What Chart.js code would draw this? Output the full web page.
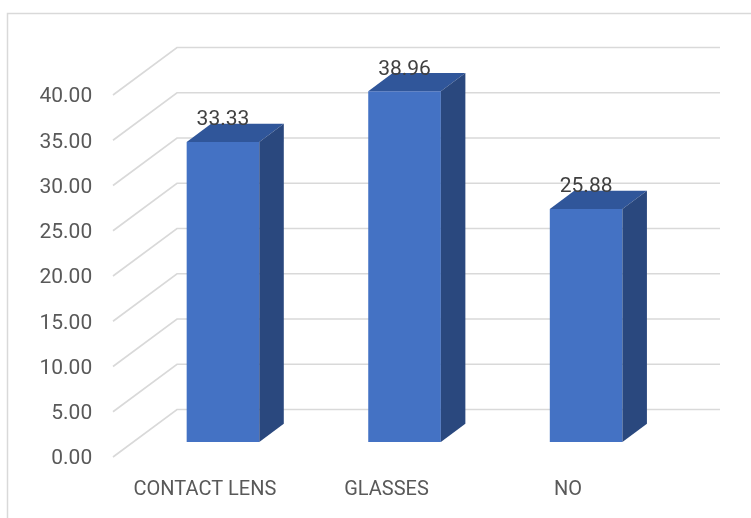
<!DOCTYPE html>
<html>
<head>
<meta charset="utf-8">
<script src="https://cdn.jsdelivr.net/npm/chart.js@4/dist/chart.umd.min.js"></script>
<style>
  html, body { margin: 0; padding: 0; background: #ffffff; }
  canvas { display: block; }
</style>
</head>
<body>
<canvas id="chart" width="751" height="518"></canvas>
<script>
// Share of respondents by type of vision correction (%)
const categories = ['CONTACT LENS', 'GLASSES', 'NO'];
const percentValues = [33.33, 38.96, 25.88];
const yTickValues = [0, 5, 10, 15, 20, 25, 30, 35, 40];
const yTickLabels = yTickValues.map(v => v.toFixed(2));

// 3D layout constants (pixels)
const AREA_LEFT = 132.2;
const AREA_BOTTOM = 457;
const FRONT_PX_PER_UNIT = 9.05;   // label plane scale
const AXIS_MAX = 45;
const AREA_TOP = AREA_BOTTOM - AXIS_MAX * FRONT_PX_PER_UNIT;
const BAR_PX_PER_UNIT = 9.0;      // bar front plane scale
const BAR_LIFT = 15;              // bar floor sits above the label plane
const BAR_DEPTH_X = 24.5;
const BAR_DEPTH_Y = 18.3;
const WALL_DX = 64;
const WALL_DY = 47.5;
const WALL_START_X = 113;
const WALL_END_X = 720;

const barMin = -BAR_LIFT / BAR_PX_PER_UNIT;
const barMax = barMin + (AREA_BOTTOM - AREA_TOP) / BAR_PX_PER_UNIT;

const FONT = 'Roboto, "Liberation Sans", sans-serif';

// Back wall / floor gridlines in perspective
const wallPlugin = {
  id: 'wall',
  beforeDatasetsDraw(chart) {
    const ctx = chart.ctx;
    const y = chart.scales.y;
    ctx.save();
    ctx.strokeStyle = '#d9d9d9';
    ctx.lineWidth = 1.6;
    yTickValues.forEach(v => {
      const fy = y.getPixelForValue(v);
      const by = fy - WALL_DY;
      ctx.beginPath();
      ctx.moveTo(WALL_START_X, fy);
      ctx.lineTo(WALL_START_X + WALL_DX, by);
      ctx.lineTo(WALL_END_X, by);
      ctx.stroke();
    });
    ctx.restore();
  }
};

// Top and side faces of the columns plus value labels
const boxPlugin = {
  id: 'box3d',
  afterDatasetsDraw(chart) {
    const ctx = chart.ctx;
    const meta = chart.getDatasetMeta(0);
    ctx.save();
    meta.data.forEach((bar, i) => {
      const l = bar.x - bar.width / 2;
      const r = bar.x + bar.width / 2;
      const t = bar.y;
      const b = bar.base;
      // top face
      ctx.fillStyle = '#30569a';
      ctx.beginPath();
      ctx.moveTo(l, t);
      ctx.lineTo(r, t);
      ctx.lineTo(r + BAR_DEPTH_X, t - BAR_DEPTH_Y);
      ctx.lineTo(l + BAR_DEPTH_X, t - BAR_DEPTH_Y);
      ctx.closePath();
      ctx.fill();
      // side face
      ctx.fillStyle = '#2a487e';
      ctx.beginPath();
      ctx.moveTo(r, t);
      ctx.lineTo(r + BAR_DEPTH_X, t - BAR_DEPTH_Y);
      ctx.lineTo(r + BAR_DEPTH_X, b - BAR_DEPTH_Y);
      ctx.lineTo(r, b);
      ctx.closePath();
      ctx.fill();
      // value label
      ctx.fillStyle = '#404040';
      ctx.font = '21px ' + FONT;
      ctx.textAlign = 'center';
      ctx.textBaseline = 'alphabetic';
      ctx.fillText(percentValues[i].toFixed(2), bar.x, t - BAR_DEPTH_Y + 1.5);
    });
    ctx.restore();
  }
};

// Light chart frame
const framePlugin = {
  id: 'frame',
  beforeDraw(chart) {
    const ctx = chart.ctx;
    ctx.save();
    ctx.fillStyle = '#ffffff';
    ctx.fillRect(0, 0, chart.width, chart.height);
    ctx.strokeStyle = '#d9d9d9';
    ctx.lineWidth = 1.5;
    ctx.strokeRect(7.5, 13.5, 800, 600);
    ctx.restore();
  }
};

new Chart(document.getElementById('chart'), {
  type: 'bar',
  data: {
    labels: categories,
    datasets: [{
      data: percentValues,
      yAxisID: 'y2',
      backgroundColor: '#4472c4',
      borderWidth: 0,
      barPercentage: 1,
      categoryPercentage: 0.4
    }]
  },
  options: {
    responsive: false,
    animation: false,
    devicePixelRatio: 1,
    layout: { padding: { top: AREA_TOP, right: 751 - 676.9, bottom: 0, left: 0 } },
    plugins: { legend: { display: false }, tooltip: { enabled: false } },
    scales: {
      x: {
        grid: { display: false, drawTicks: false },
        border: { display: false },
        ticks: {
          color: '#595959',
          font: { family: FONT, size: 20 },
          padding: 21,
          labelOffset: -18,
          maxRotation: 0
        },
        afterFit(scale) {
          scale.height = 518 - AREA_BOTTOM;
          scale.paddingLeft = 0;
          scale.paddingRight = 0;
        }
      },
      y: {
        min: 0,
        max: AXIS_MAX,
        grid: { display: false, drawTicks: false },
        border: { display: false },
        afterBuildTicks(scale) { scale.ticks = yTickValues.map(v => ({ value: v })); },
        ticks: {
          color: '#595959',
          font: { family: FONT, size: 21 },
          padding: 40,
          labelOffset: 2,
          callback: (v) => yTickLabels[yTickValues.indexOf(v)]
        },
        afterFit(scale) {
          scale.width = AREA_LEFT;
          scale.paddingTop = 0;
          scale.paddingBottom = 0;
        }
      },
      y2: {
        display: false,
        min: barMin,
        max: barMax
      }
    }
  },
  plugins: [framePlugin, wallPlugin, boxPlugin]
});
</script>
</body>
</html>
